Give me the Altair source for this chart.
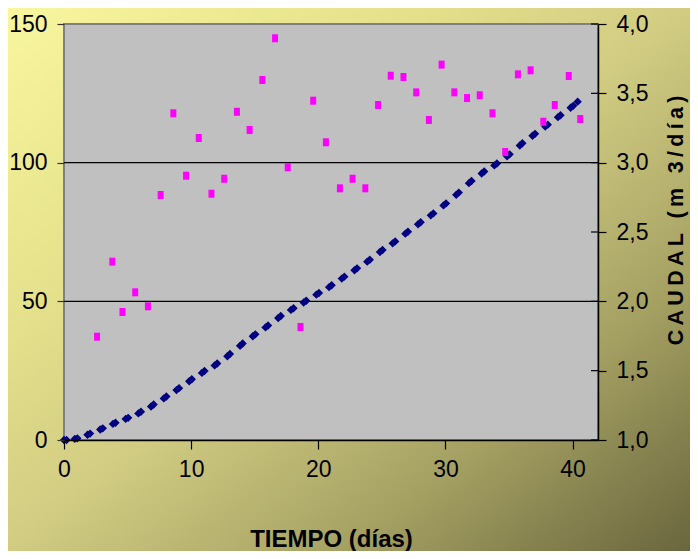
import altair as alt
import pandas as pd

# --- data ---
dia_vol = [0.0, 0.2, 0.85, 1.05, 1.85, 2.05, 2.85, 3.05, 3.85, 4.05, 4.85, 5.05, 5.85, 6.05,
           6.85, 7.05, 7.85, 8.05, 8.85, 9.05, 9.85, 10.05, 10.85, 11.05, 11.85, 12.05, 12.85,
           13.05, 13.85, 14.05, 14.85, 15.05, 15.85, 16.05, 16.85, 17.05, 17.85, 18.05, 18.85,
           19.05, 19.85, 20.05, 20.85, 21.05, 21.85, 22.05, 22.85, 23.05, 23.85, 24.05, 24.85,
           25.05, 25.85, 26.05, 26.85, 27.05, 27.85, 28.05, 28.85, 29.05, 29.85, 30.05, 30.85,
           31.05, 31.85, 32.05, 32.85, 33.05, 33.85, 34.05, 34.85, 35.05, 35.85, 36.05, 36.85,
           37.05, 37.85, 38.05, 38.85, 39.05, 39.85, 40.05, 40.4]
vol = [0.0, 0.0, 0.4, 0.6, 1.9, 2.3, 3.8, 4.2, 5.8, 6.2, 7.6, 8.0, 9.6, 10.2, 12.1, 12.8,
       15.0, 15.7, 18.0, 18.7, 21.2, 21.9, 24.2, 24.9, 26.9, 27.6, 30.2, 31.0, 34.0, 34.8,
       37.4, 38.1, 40.6, 41.3, 44.0, 44.7, 46.9, 47.5, 49.6, 50.2, 52.4, 53.0, 55.1, 55.8,
       58.2, 58.9, 61.2, 61.9, 64.3, 65.0, 67.8, 68.5, 70.9, 71.6, 74.4, 75.1, 77.8, 78.5,
       81.0, 81.7, 84.6, 85.3, 88.4, 89.2, 92.6, 93.4, 96.1, 96.8, 99.0, 99.7, 102.3, 103.0,
       106.2, 107.0, 109.7, 110.4, 113.0, 113.7, 116.4, 117.1, 119.8, 120.5, 122.0]

dia_caudal = [2.6, 3.8, 4.6, 5.6, 6.6, 7.6, 8.6, 9.6, 10.6, 11.6, 12.6, 13.6, 14.6, 15.6,
              16.6, 17.6, 18.6, 19.6, 20.6, 21.7, 22.7, 23.7, 24.7, 25.7, 26.7, 27.7, 28.7,
              29.7, 30.7, 31.7, 32.7, 33.7, 34.7, 35.7, 36.7, 37.7, 38.6, 39.7, 40.6]
caudal = [1.745, 2.286, 1.923, 2.065, 1.964, 2.767, 3.356, 2.906, 3.178, 2.776, 2.884, 3.367,
          3.236, 3.596, 3.897, 2.967, 1.815, 3.447, 3.147, 2.815, 2.884, 2.815, 3.416, 3.627,
          3.618, 3.507, 3.308, 3.707, 3.507, 3.466, 3.486, 3.356, 3.077, 3.637, 3.666, 3.295,
          3.416, 3.625, 3.315]

ticks_x = [0, 10, 20, 30, 40]
ticks_vol = [0, 50, 100, 150]
grid_vol = [50, 100]
ticks_caudal = [1.0, 1.5, 2.0, 2.5, 3.0, 3.5, 4.0]

titulo_x = "TIEMPO (días)"
titulo_der = "\u2009".join(list("CAUDAL (m 3/día)"))

W, H = 534, 416
FN = "Liberation Sans, Arial, sans-serif"

df_vol = pd.DataFrame({"dia": dia_vol, "volumen": vol})
df_cau = pd.DataFrame({"dia": dia_caudal, "caudal": caudal})
df_grid = pd.DataFrame({"volumen": grid_vol})
df_rt = pd.DataFrame({"caudal": ticks_caudal})
one = pd.DataFrame({"k": [0]})

xenc = alt.X("dia:Q", scale=alt.Scale(domain=[0, 42], nice=False),
             axis=alt.Axis(values=ticks_x, title=titulo_x, titleFont=FN, titleFontSize=24,
                           titleFontWeight="bold", titleColor="black", titleY=106,
                           titleBaseline="alphabetic",
                           labelFont=FN, labelFontSize=23, labelColor="black", labelPadding=9,
                           tickSize=9, tickColor="black", tickWidth=1.2,
                           domainColor="black", domainWidth=1.5, grid=False, zindex=1,
                           labelFlush=False))

yvol = alt.Y("volumen:Q", scale=alt.Scale(domain=[0, 150], nice=False),
             axis=alt.Axis(orient="left", values=ticks_vol, title=None,
                           labelFont=FN, labelFontSize=23, labelColor="black", labelPadding=10,
                           tickSize=7, tickColor="#333333", tickWidth=1.2, domain=False,
                           grid=False, zindex=1))

ycau = alt.Y("caudal:Q", scale=alt.Scale(domain=[1, 4], nice=False),
             axis=alt.Axis(orient="right", values=ticks_caudal,
                           labelExpr="replace(format(datum.value, '.1f'), '.', ',')",
                           labelFont=FN, labelFontSize=23, labelColor="black", labelPadding=10,
                           tickSize=8, tickColor="black", tickWidth=1.2,
                           domainColor="black", domainWidth=1.5, grid=False, zindex=1,
                           title=titulo_der, titleFont=FN, titleFontSize=21.5,
                           titleFontWeight="bold", titleColor="black", titleAngle=270,
                           titleX=78, titleY=196, titleBaseline="middle", titleAlign="center"))

grad = alt.Gradient(gradient="linear", x1=0, y1=0, x2=1, y2=1,
                    stops=[alt.GradientStop(offset=0, color="#f8f69e"),
                           alt.GradientStop(offset=0.3, color="#e4e08b"),
                           alt.GradientStop(offset=0.5, color="#d1cc82"),
                           alt.GradientStop(offset=0.75, color="#a4a062"),
                           alt.GradientStop(offset=1, color="#6a663e")])

bg = alt.Chart(one).mark_rect(fill=grad).encode(
    x=alt.value(-56), x2=alt.value(626), y=alt.value(-16), y2=alt.value(527))

plot_bg = alt.Chart(one).mark_rect(fill="#c0c0c0", stroke="#808080", strokeWidth=2).encode(
    x=alt.value(0), x2=alt.value(W), y=alt.value(0), y2=alt.value(H))

grid = alt.Chart(df_grid).mark_rule(color="black", strokeWidth=1.2).encode(
    y=yvol, x=alt.value(0), x2=alt.value(W))

blue = alt.Chart(df_vol).mark_point(shape="diamond", filled=True, size=70,
                                    color="#000080", opacity=1).encode(x=xenc, y=yvol)

rt = alt.Chart(df_rt).mark_rule(color="black", strokeWidth=1.2).encode(
    y=ycau, x=alt.value(W - 7), x2=alt.value(W))

mag = alt.Chart(df_cau).mark_point(shape="M-0.75,-1H0.75V1H-0.75Z", filled=True, size=64,
                                   color="#ff00ff", opacity=1).encode(x=xenc, y=ycau)

left = alt.layer(bg, plot_bg, grid, blue)
right = alt.layer(rt, mag)

chart = alt.layer(left, right).resolve_scale(y="independent").properties(
    width=W, height=H,
    autosize=alt.AutoSizeParams(type="none"),
    padding={"left": 56, "top": 16, "right": 92, "bottom": 111},
).configure_view(strokeWidth=0)

chart.save("out.html", embed_options={"renderer": "svg", "actions": False})
